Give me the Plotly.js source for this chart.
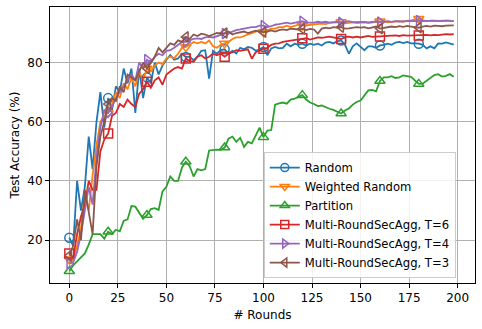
<!DOCTYPE html>
<html>
<head>
<meta charset="utf-8">
<script src="https://cdn.plot.ly/plotly-3.0.1.min.js"></script>
<style>
  html, body { margin: 0; padding: 0; background: #fff; }
  #chart { width: 482px; height: 329px; }
</style>
</head>
<body>
<div id="chart"></div>
<script>
/* Test accuracy per round (every 2nd round) */

const rounds = [
  0, 2, 4, 6, 8, 10, 12, 14, 16, 18,
  20, 22, 24, 26, 28, 30, 32, 34, 36, 38,
  40, 42, 44, 46, 48, 50, 52, 54, 56, 58,
  60, 62, 64, 66, 68, 70, 72, 74, 76, 78,
  80, 82, 84, 86, 88, 90, 92, 94, 96, 98,
  100, 102, 104, 106, 108, 110, 112, 114, 116, 118,
  120, 122, 124, 126, 128, 130, 132, 134, 136, 138,
  140, 142, 144, 146, 148, 150, 152, 154, 156, 158,
  160, 162, 164, 166, 168, 170, 172, 174, 176, 178,
  180, 182, 184, 186, 188, 190, 192, 194, 196, 198,
];

const randomAcc = [
  20.8, 18, 40, 30, 38, 55, 44, 60, 70, 58,
  68, 64, 72, 70, 78, 73, 78, 63, 78, 68,
  75, 73, 80, 76, 79, 81, 82.5, 81, 81.4, 83,
  81.9, 82, 80.8, 82, 84, 84.2, 74.6, 84, 83, 84.2,
  84.5, 83, 84, 83.1, 85, 84.5, 85.3, 85, 84, 84.5,
  85.3, 82.5, 84.8, 85.3, 84.8, 85, 86.4, 85.5, 86.4, 86,
  86.4, 85.8, 86.4, 86, 86.4, 85.8, 86.8, 87, 86.5, 87.2,
  87.5, 86, 83, 85.5, 86.5, 85.3, 84.2, 85.5, 85.5, 85,
  85.8, 86, 86.4, 86, 86.8, 87, 86.6, 87, 86.5, 86.5,
  86.4, 86, 84.8, 85.5, 84.8, 86.5, 86.4, 86.8, 86.5, 86.1,
];

const weightedAcc = [
  13.5, 14, 18, 24, 36, 30, 42, 52, 60, 62,
  63, 66, 70, 68, 73, 71, 75, 72, 77, 74,
  78, 77, 79, 80, 79.5, 81.4, 82, 81.5, 83, 85,
  85.3, 86, 87, 86.5, 87, 86.5, 87.5, 85.5, 85, 86,
  86.5, 87, 88, 88.5, 88.5, 89, 89.5, 90, 90.5, 91,
  90.3, 91, 91.5, 91.5, 92, 92, 92.5, 92, 92.5, 92.8,
  92.6, 92.5, 92.8, 93, 93, 93.2, 93, 93.4, 93.5, 93.5,
  93.7, 93.3, 93.5, 93.6, 93.4, 93.5, 93.6, 93.4, 93.7, 93.8,
  94, 93.7, 93.6, 93.8, 93.9, 94, 93.8, 94.2, 94.3, 94.5,
  94.8, 94.3, 94, 94.2, 94.1, 94, 94.2, 94.3, 94.2, 94,
];

const partitionAcc = [
  9.5, 11.5, 12.8, 14, 15.5, 18.5, 22, 22, 22, 20.5,
  22.8, 22, 23.5, 23, 26.5, 27, 31.5, 31.3, 29, 27.2,
  28.5, 30.5, 30.8, 30.2, 36.5, 38, 41.5, 40, 40, 44.5,
  46.5, 45, 41.5, 44, 43.6, 44, 50.3, 50.5, 50.6, 50.5,
  51.3, 54.3, 55, 53.2, 54.6, 51.5, 53.2, 52.7, 55.5, 58,
  54.8, 57, 57.2, 65.8, 66.2, 66.5, 66.1, 67.5, 67.8, 68.5,
  69, 67.5, 66.5, 66, 65.3, 65.5, 64.9, 64.4, 64, 63.5,
  62.8, 63.8, 64.5, 65.8, 66.7, 67.2, 69, 70.6, 70.8, 70.3,
  73.8, 75, 75, 75.4, 74.8, 75, 75.7, 75.5, 75.2, 74,
  72.8, 72.9, 73.8, 75, 75.8, 76.1, 75.3, 75.5, 76.1, 75.2,
];

const secAggT6 = [
  15.5, 14, 22, 28, 32, 40, 37, 37, 50, 54,
  56, 62, 63, 66, 65, 67.5, 66, 65, 69.5, 71,
  73.5, 71.5, 74, 75, 72.5, 76, 77, 78, 78.5, 78,
  81.4, 80.5, 80.3, 82, 82.5, 81.4, 82, 83, 82.5, 83.1,
  82, 83, 83.5, 84.2, 84, 84.2, 84.5, 81.3, 83.5, 84,
  84.7, 85, 86, 86.4, 86.5, 87, 87.2, 87.5, 87.8, 88,
  88.2, 88.3, 87.8, 88.2, 88.5, 88.4, 88.6, 88.8, 88.5, 88.3,
  88, 88.6, 88.8, 88.5, 88.8, 88.5, 88.8, 89, 88.7, 88.8,
  88.8, 88.9, 89.1, 89, 89.2, 89, 89.3, 89.1, 89.2, 89.3,
  89.2, 89.3, 89.4, 89.2, 89.4, 89.3, 89.5, 89.6, 89.5, 89.6,
];

const secAggT4 = [
  12, 12.5, 16, 22, 30, 38, 32, 48, 58, 64,
  63, 65, 68, 70, 72, 74, 76, 74, 80, 78,
  81, 80, 82, 83, 82.5, 84, 84.2, 85, 86, 87,
  87, 87.5, 88, 88.2, 88, 88.5, 88.7, 88.5, 89, 89.5,
  89.8, 90, 90.5, 91, 91.2, 91.5, 91.8, 92, 92, 92.5,
  92.5, 92, 92.3, 92.8, 93, 93.2, 93.5, 93.2, 93.5, 93.7,
  94, 93.5, 93.4, 93.5, 93.8, 93.6, 93.8, 93.5, 93.7, 93.8,
  93.6, 93.8, 94, 93.7, 93.8, 93.7, 93.8, 93.6, 93.8, 93.9,
  93.7, 93.8, 94, 93.8, 94, 93.9, 94, 93.9, 94.1, 94,
  94.2, 94, 94.1, 94, 94.2, 94.1, 94, 94.2, 94.1, 94,
];

const secAggT3 = [
  14.8, 18, 27, 20, 37, 30, 22, 45, 55, 60,
  66, 68, 67, 72, 70, 76, 75, 74, 77, 80,
  78, 80, 82, 85, 83.5, 85, 86.5, 86, 87.5, 87,
  88.7, 88, 89.5, 89, 89.8, 89.5, 89, 89.5, 90, 89.8,
  90, 90.5, 89.5, 90, 90.3, 90.5, 90, 90.5, 90.8, 90.5,
  90.3, 90.5, 90.9, 90.5, 91, 91.2, 91, 91.5, 91.3, 91.2,
  91.4, 91, 91.4, 91.2, 89.8, 91.5, 91.8, 91.6, 92, 91.8,
  92, 91.5, 91.6, 91.8, 92, 91.8, 92, 91.6, 91.8, 92.2,
  91.5, 91.8, 92, 92.2, 92, 92.3, 92.1, 92.4, 92.2, 92,
  91.8, 92.2, 92.4, 92.2, 92.5, 92.4, 92.3, 92.5, 92.6, 92.6,
];

const xTicks = [0, 25, 50, 75, 100, 125, 150, 175, 200];
const yTicks = [20, 40, 60, 80];

const SERIES = [
  { name: 'Random',                   y: randomAcc,    color: '#1f77b4', symbol: 'circle-open' },
  { name: 'Weighted Random',          y: weightedAcc,  color: '#ff7f0e', symbol: 'triangle-down-open' },
  { name: 'Partition',                y: partitionAcc, color: '#2ca02c', symbol: 'triangle-up-open' },
  { name: 'Multi-RoundSecAgg, T=6',   y: secAggT6,     color: '#d62728', symbol: 'square-open' },
  { name: 'Multi-RoundSecAgg, T=4',   y: secAggT4,     color: '#9467bd', symbol: 'triangle-right-open' },
  { name: 'Multi-RoundSecAgg, T=3',   y: secAggT3,     color: '#8c564b', symbol: 'triangle-left-open' },
];

const MARK_EVERY = 20;
const markIdx = rounds.map((r, i) => (r % MARK_EVERY === 0 ? i : -1)).filter(i => i >= 0);

const traces = [];
SERIES.forEach(s => {
  const marker = { symbol: s.symbol, size: 9, color: s.color, line: { color: s.color, width: 1.5 } };
  // the curve
  traces.push({
    x: rounds, y: s.y, type: 'scatter', mode: 'lines',
    line: { color: s.color, width: 1.8 },
    showlegend: false, hoverinfo: 'skip',
  });
  // markers every 20 rounds
  traces.push({
    x: markIdx.map(i => rounds[i]), y: markIdx.map(i => s.y[i]),
    type: 'scatter', mode: 'markers', marker: marker,
    showlegend: false, hoverinfo: 'skip',
  });
  // legend entry
  traces.push({
    x: [null], y: [null], type: 'scatter', mode: 'lines+markers',
    name: s.name, line: { color: s.color, width: 1.8 },
    marker: { ...marker, size: 8 },
  });
});

const axisCommon = {
  showgrid: true, gridcolor: '#b0b0b0', gridwidth: 1,
  zeroline: false,
  showline: true, linecolor: '#000', linewidth: 1, mirror: true,
  ticks: 'outside', ticklen: 4, tickcolor: '#000',
  tickfont: { size: 12, color: '#000' },
};

const layout = {
  width: 482, height: 329,
  paper_bgcolor: '#fff', plot_bgcolor: '#fff',
  font: { family: 'DejaVu Sans, sans-serif', color: '#000', size: 12 },
  margin: { l: 50, r: 7, t: 7, b: 46 },
  xaxis: {
    ...axisCommon,
    range: [-9.95, 208.95], tickvals: xTicks,
    title: { text: '# Rounds', font: { size: 12 }, standoff: 6 },
  },
  yaxis: {
    ...axisCommon,
    range: [5.5, 98.8], tickvals: yTicks,
    title: { text: 'Test Accuracy (%)', font: { size: 12 }, standoff: 5 },
  },
  legend: {
    x: 0.503, y: 0.018, xanchor: 'left', yanchor: 'bottom',
    bgcolor: 'rgba(255,255,255,0.85)', bordercolor: '#cccccc', borderwidth: 1,
    font: { size: 11.6, color: '#000' },
    tracegroupgap: 0,
  },
  showlegend: true,
};

Plotly.newPlot('chart', traces, layout, { displayModeBar: false, staticPlot: true });
</script>
</body>
</html>
